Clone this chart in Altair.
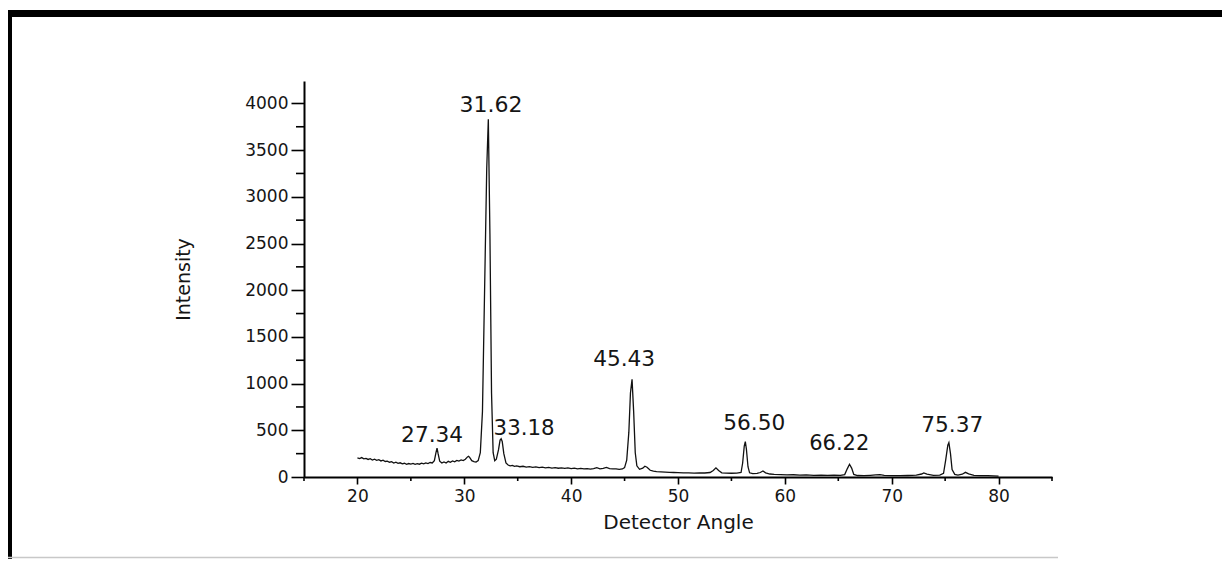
import altair as alt
import pandas as pd

# ---- XRD trace (detector angle vs intensity) ----
angle = [
    20.0, 20.2, 20.4, 20.6, 20.8, 21.0, 21.2, 21.4, 21.6, 21.8,
    22.0, 22.2, 22.4, 22.6, 22.8, 23.0, 23.2, 23.4, 23.6, 23.8,
    24.0, 24.2, 24.4, 24.6, 24.8, 25.0, 25.2, 25.4, 25.6, 25.8,
    26.0, 26.2, 26.4, 26.6, 26.8, 27.0, 27.2, 27.35, 27.45, 27.55,
    27.7, 27.9, 28.1, 28.3, 28.5, 28.7, 28.9, 29.1, 29.3, 29.5,
    29.7, 29.9, 30.1, 30.3, 30.4, 30.5, 30.7, 30.9, 31.1, 31.3,
    31.5, 31.7, 31.9, 32.1, 32.25, 32.4, 32.55, 32.7, 32.85, 33.0,
    33.2, 33.35, 33.45, 33.55, 33.7, 33.9, 34.1, 34.3, 34.5, 34.7,
    34.9, 35.2, 35.5, 35.8, 36.1, 36.4, 36.7, 37.0, 37.3, 37.6,
    37.9, 38.2, 38.5, 38.8, 39.1, 39.4, 39.7, 40.0, 40.3, 40.6,
    40.9, 41.2, 41.5, 41.8, 42.1, 42.4, 42.7, 43.0, 43.3, 43.6,
    43.9, 44.2, 44.5, 44.8, 45.0, 45.2, 45.4, 45.55, 45.7, 45.85,
    46.0, 46.15, 46.4, 46.7, 46.9, 47.1, 47.4, 47.7, 48.0, 48.4,
    48.8, 49.2, 49.6, 50.0, 50.5, 51.0, 51.5, 52.0, 52.5, 53.0,
    53.3, 53.55, 53.8, 54.1, 54.5, 55.0, 55.5, 55.9, 56.05, 56.2,
    56.3, 56.4, 56.55, 56.7, 57.0, 57.4, 57.7, 57.95, 58.2, 58.6,
    59.0, 59.6, 60.2, 60.8, 61.4, 62.0, 62.7, 63.4, 64.0, 64.6,
    65.2, 65.6, 65.85, 66.05, 66.25, 66.45, 66.8, 67.4, 68.0, 68.5,
    68.9, 69.3, 70.0, 70.8, 71.5, 72.3, 72.8, 73.0, 73.3, 73.9,
    74.5, 74.85, 75.05, 75.25, 75.35, 75.5, 75.65, 75.9, 76.2, 76.6,
    76.9, 77.2, 77.7, 78.3, 79.0, 79.5, 80.0,
]
intensity = [
    205, 198, 208, 195, 200, 188, 196, 182, 190, 178,
    185, 172, 180, 166, 170, 158, 165, 150, 158, 146,
    152, 140, 147, 136, 144, 138, 146, 135, 142, 137,
    148, 140, 150, 144, 155, 150, 175, 260, 310, 250,
    170, 150, 162, 150, 168, 158, 172, 162, 178, 170,
    182, 175, 190, 215, 222, 210, 175, 165, 160, 175,
    260, 700, 2000, 3300, 3830, 2600, 900, 260, 175, 190,
    290, 395, 410, 380, 250, 150, 128, 120, 125, 114,
    118, 110, 115, 106, 112, 104, 108, 100, 106, 98,
    103, 96, 100, 94, 98, 92, 97, 90, 94, 88,
    92, 86, 90, 84, 90, 100, 88, 92, 102, 90,
    86, 88, 82, 86, 100, 180, 480, 900, 1045, 700,
    260, 120, 82, 95, 115, 105, 72, 62, 58, 55,
    52, 50, 48, 46, 44, 45, 42, 44, 43, 48,
    70, 98, 70, 45, 42, 40, 42, 48, 150, 330,
    378, 300, 110, 45, 36, 38, 48, 64, 45, 32,
    28, 25, 22, 24, 20, 22, 18, 20, 17, 19,
    18, 26, 90, 136, 95, 28, 16, 14, 18, 22,
    25, 18, 15, 14, 16, 20, 32, 43, 30, 18,
    20, 40, 180, 340, 367, 250, 80, 28, 21, 30,
    50, 34, 18, 15, 14, 12, 10,
]
assert len(angle) == len(intensity)

# ---- peak annotations ----
peak_labels = ["27.34", "31.62", "33.18", "45.43", "56.50", "66.22", "75.37"]
label_angle = [26.99, 32.51, 35.6, 44.96, 57.13, 65.09, 75.67]
label_height = [375, 3908, 450, 1188, 503, 289, 482]
label_tier = ["large", "main", "small", "large", "large", "small2", "large"]

# ---- axis ticks ----
x_major = [20, 30, 40, 50, 60, 70, 80]
x_minor = [15, 25, 35, 45, 55, 65, 75, 85]
y_major = [0, 500, 1000, 1500, 2000, 2500, 3000, 3500, 4000]
y_minor = [250, 750, 1250, 1750, 2250, 2750, 3250, 3750]

trace = pd.DataFrame({"angle": angle, "intensity": intensity})
labels = pd.DataFrame({"label": peak_labels, "x": label_angle,
                       "y": label_height, "tier": label_tier})

FONT = "DejaVu Sans"

x_scale = alt.Scale(domain=[15, 85], nice=False, zero=False)
y_scale = alt.Scale(domain=[0, 4240], nice=False)

x_axis = alt.Axis(
    values=x_major,
    tickSize=7,
    labelPadding=4,
    title="Detector Angle",
    titleX=374, titleY=35, titleBaseline="top", titleAnchor="middle",
    titleFontSize=20, titleFontWeight="normal",
    grid=False,
)
y_axis = alt.Axis(
    values=y_major,
    format="d",
    tickSize=13,
    labelPadding=3,
    title="Intensity",
    titleX=-121, titleY=198, titleAngle=-90, titleBaseline="middle",
    titleAlign="center",
    titleFontSize=19, titleFontWeight="normal",
    grid=False,
)

line = alt.Chart(trace).mark_line(color="#111111", strokeWidth=1.3).encode(
    x=alt.X("angle:Q", scale=x_scale, axis=x_axis),
    y=alt.Y("intensity:Q", scale=y_scale, axis=y_axis),
)

# minor ticks (half-step) drawn through the same scales
y_minor_ticks = alt.Chart(pd.DataFrame({"v": y_minor})).mark_rule(
    color="#000000", strokeWidth=1.6).encode(
    y=alt.Y("v:Q", scale=y_scale), x=alt.value(-8), x2=alt.value(0))
x_minor_ticks = alt.Chart(pd.DataFrame({"v": x_minor})).mark_rule(
    color="#000000", strokeWidth=1.6).encode(
    x=alt.X("v:Q", scale=x_scale), y=alt.value(396), y2=alt.value(400))

text = alt.Chart(labels).mark_text(font=FONT, color="#151515", baseline="alphabetic",
                                   align="center").encode(
    x=alt.X("x:Q", scale=x_scale),
    y=alt.Y("y:Q", scale=y_scale),
    text="label:N",
    size=alt.Size("tier:N", scale=alt.Scale(domain=["main", "large", "small", "small2"],
                                            range=[22, 21, 17, 17]), legend=None),
)

one = pd.DataFrame({"k": [0]})
frame_top = alt.Chart(one).mark_rule(color="#000000", strokeWidth=7).encode(
    x=alt.value(-296), x2=alt.value(918), y=alt.value(-67.5))
frame_left = alt.Chart(one).mark_rule(color="#000000", strokeWidth=4).encode(
    x=alt.value(-294), y=alt.value(-71), y2=alt.value(478))
frame_bottom = alt.Chart(one).mark_rule(color="#c8c8c8", strokeWidth=1.5).encode(
    x=alt.value(-296), x2=alt.value(754), y=alt.value(476.5))

chart = alt.layer(frame_top, frame_left, frame_bottom, y_minor_ticks, x_minor_ticks,
                  line, text).properties(
    width=748, height=396,
    autosize=alt.AutoSizeParams(type="none"),
    padding={"left": 296, "top": 73, "right": 170, "bottom": 82},
    background="white",
).configure_view(stroke=None).configure_axis(
    domainColor="#000000", domainWidth=2, tickColor="#000000", tickWidth=1.6,
    labelFont=FONT, labelFontSize=17, labelColor="#151515",
    titleFont=FONT, titleColor="#151515",
)

chart.save("out.html", embed_options={"renderer": "svg", "actions": False})
